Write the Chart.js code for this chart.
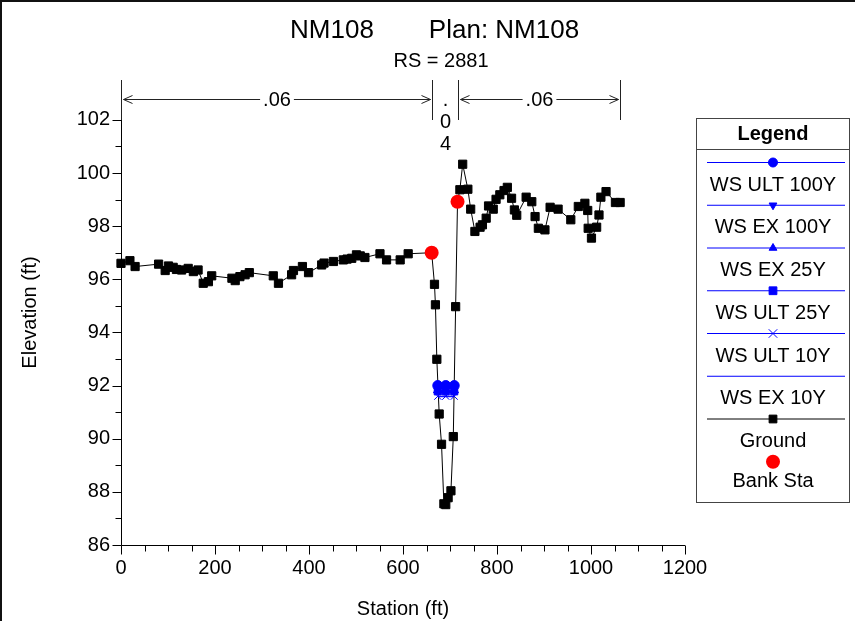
<!DOCTYPE html>
<html>
<head>
<meta charset="utf-8">
<title>NM108 RS 2881</title>
<script src="https://cdn.jsdelivr.net/npm/chart.js@4/dist/chart.umd.min.js"></script>
<style>
  html, body { margin: 0; padding: 0; background: #fff; }
  canvas { display: block; }
</style>
</head>
<body>
<canvas id="xs" width="855" height="621"></canvas>
<script>
// ground survey points (station ft, elevation ft)
const groundStations = [
  0, 19, 30, 80, 94, 101, 111, 118, 129, 143, 154, 164, 175, 186, 193, 236, 243, 253, 264, 273,
  324, 335, 363, 367, 386, 399, 427, 432, 452, 473, 481, 491, 501, 509, 519, 551, 565, 594, 611,
  661, 667, 669, 672, 677, 682, 687, 691, 696, 702, 707, 712, 716,
  721, 727, 738, 744, 753, 764, 769, 777, 782, 792, 798, 806, 815, 822, 831, 837, 842, 862, 874,
  881, 888, 902, 913, 930, 957, 973, 987, 993, 994, 1001, 1012, 1017, 1021, 1032, 1052, 1062
];
const groundElevations = [
  96.60, 96.70, 96.48, 96.57, 96.33, 96.50, 96.45, 96.37, 96.35, 96.41, 96.29, 96.35, 95.85, 95.91, 96.13, 96.04, 95.95, 96.10, 96.17, 96.25,
  96.13, 95.85, 96.17, 96.33, 96.48, 96.25, 96.54, 96.61, 96.67, 96.73, 96.76, 96.79, 96.92, 96.88, 96.82, 96.96, 96.73, 96.73, 96.96,
  97.00, 95.81, 95.04, 92.99, 90.93, 89.79, 87.55, 87.52, 87.78, 88.04, 90.08, 94.97, 98.92,
  99.37, 100.33, 99.39, 98.64, 97.80, 97.96, 98.05, 98.30, 98.76, 98.64, 99.01, 99.18, 99.34, 99.46, 99.05, 98.61, 98.41, 99.09, 98.92,
  98.36, 97.92, 97.86, 98.71, 98.64, 98.24, 98.74, 98.86, 98.59, 97.92, 97.55, 97.96, 98.42, 99.09, 99.30, 98.89, 98.89
];

// left / right bank stations
const bankStations = [661, 716];
const bankElevations = [97.00, 98.92];

// water surface profiles
const wsStations = [674, 691, 709];
const wsNames = ['WS ULT 100Y', 'WS EX 100Y', 'WS EX 25Y', 'WS ULT 25Y', 'WS ULT 10Y', 'WS EX 10Y'];
const wsLevels = [92.00, 91.95, 91.82, 91.78, 91.60, 91.58];
const wsMarkers = ['circle', 'triangle', 'triangle', 'rect', 'crossRot', false];
const wsRotation = [0, 180, 0, 0, 0, 0];

// manning's n values across the section
const nStations = [0, 661, 716, 1062];
const nValues = ['.06', '.04', '.06'];

const titleText = 'NM108';
const planText = 'Plan: NM108';
const rsText = 'RS = 2881';

const FONT = '"Liberation Sans", Arial, sans-serif';
const BLUE = '#0000ff';

const pts = (xs, ys) => xs.map((x, i) => ({ x, y: ys[i] }));

const datasets = wsNames.map((name, i) => ({
  label: name,
  data: wsStations.map(s => ({ x: s, y: wsLevels[i] })),
  borderColor: BLUE,
  backgroundColor: BLUE,
  borderWidth: 1,
  pointStyle: wsMarkers[i],
  rotation: wsRotation[i],
  pointRadius: wsMarkers[i] ? 5 : 0,
  pointBorderWidth: 1,
  order: 1
}));
datasets.push({
  label: 'Ground',
  data: pts(groundStations, groundElevations),
  borderColor: '#000',
  backgroundColor: '#000',
  borderWidth: 1,
  pointStyle: 'rect',
  pointRadius: 5.8,
  pointBorderWidth: 1,
  order: 2
});
datasets.push({
  label: 'Bank Sta',
  data: pts(bankStations, bankElevations),
  showLine: false,
  borderColor: '#ff0000',
  backgroundColor: '#ff0000',
  pointStyle: 'circle',
  pointRadius: 7,
  pointBorderWidth: 0,
  order: 0
});

function hline(ctx, x1, x2, y) { ctx.beginPath(); ctx.moveTo(x1, y); ctx.lineTo(x2, y); ctx.stroke(); }
function vline(ctx, x, y1, y2) { ctx.beginPath(); ctx.moveTo(x, y1); ctx.lineTo(x, y2); ctx.stroke(); }

function arrowHead(ctx, x, y, dir) {
  ctx.beginPath();
  ctx.moveTo(x + dir * 9, y - 4);
  ctx.lineTo(x, y);
  ctx.lineTo(x + dir * 9, y + 4);
  ctx.stroke();
}

const decorations = {
  id: 'decorations',
  beforeDraw(chart) {
    const { ctx, width, height } = chart;
    ctx.save();
    ctx.fillStyle = '#fff';
    ctx.fillRect(0, 0, width, height);
    ctx.strokeStyle = '#111';
    ctx.lineWidth = 2;
    hline(ctx, 0, width, 1);
    vline(ctx, 1, 0, height);
    ctx.restore();
  },
  afterDraw(chart) {
    const { ctx, chartArea: a, scales: { x, y } } = chart;
    ctx.save();

    // titles
    ctx.fillStyle = '#000';
    ctx.textAlign = 'center';
    ctx.textBaseline = 'middle';
    ctx.font = '26px ' + FONT;
    ctx.fillText(titleText, 332, 31);
    ctx.fillText(planText, 504, 31);
    ctx.font = '20px ' + FONT;
    ctx.fillText(rsText, 441, 61);

    // axes with major and minor ticks
    ctx.strokeStyle = '#000';
    ctx.lineWidth = 1;
    const left = Math.round(a.left) + 0.5;
    const bottom = Math.round(a.bottom) + 0.5;
    vline(ctx, left, a.top, bottom);
    hline(ctx, left, a.right, bottom);
    for (let s = 0; s <= 1200; s += 50) {
      const px = Math.round(x.getPixelForValue(s)) + 0.5;
      vline(ctx, px, bottom, bottom + (s % 200 === 0 ? 9 : 6));
    }
    for (let e = 86; e <= 102; e += 1) {
      const py = Math.round(y.getPixelForValue(e)) + 0.5;
      hline(ctx, left - (e % 2 === 0 ? 9 : 6), left, py);
    }

    // n-value dimension lines above the section
    const barTop = a.top, barBot = a.top + 40, ay = a.top + 19.5;
    const nx = nStations.map(s => Math.round(x.getPixelForValue(s)) + 0.5);
    ctx.strokeStyle = '#222';
    nx.forEach(px => vline(ctx, px, barTop, barBot));
    ctx.font = '20px ' + FONT;
    [[0, 1, nValues[0]], [2, 3, nValues[2]]].forEach(([i, j, label]) => {
      const x1 = nx[i] + 2, x2 = nx[j] - 2, mid = (x1 + x2) / 2;
      const w = ctx.measureText(label).width + 6;
      hline(ctx, x1, mid - w / 2, ay);
      hline(ctx, mid + w / 2, x2, ay);
      arrowHead(ctx, x1, ay, 1);
      arrowHead(ctx, x2, ay, -1);
      ctx.fillText(label, mid, ay + 1);
    });
    const midX = (nx[1] + nx[2]) / 2;
    nValues[1].split('').forEach((ch, k) => ctx.fillText(ch, midX, ay + 1 + k * 22));

    // legend box
    const lx1 = 696.5, lx2 = 849.5, ly1 = 118.5, ly2 = 502.5, cx = (lx1 + lx2) / 2;
    ctx.strokeStyle = '#444';
    ctx.strokeRect(lx1, ly1, lx2 - lx1, ly2 - ly1);
    hline(ctx, lx1, lx2, 149.5);
    ctx.font = 'bold 20px ' + FONT;
    ctx.fillText('Legend', cx, 134);
    ctx.font = '20px ' + FONT;
    chart.data.datasets.forEach((ds, i) => {
      const ly = 162.5 + i * 42.75;
      ctx.strokeStyle = ds.borderColor;
      ctx.fillStyle = ds.backgroundColor;
      ctx.lineWidth = 1;
      if (ds.showLine !== false) hline(ctx, 707, 845, ly);
      if (ds.pointRadius > 0) {
        let r = 4.5;
        if (ds.label === 'Bank Sta') r = 7;
        else if (ds.pointStyle === 'rect') r = 5.5;
        else if (ds.pointStyle === 'crossRot') r = 6;
        Chart.helpers.drawPoint(ctx, {
          pointStyle: ds.pointStyle, rotation: ds.rotation || 0, radius: r, borderWidth: ds.pointBorderWidth
        }, cx, ly);
      }
      ctx.fillStyle = '#000';
      ctx.fillText(ds.label, cx, ly + (ds.label === 'Bank Sta' ? 20 : 22.5));
    });
    ctx.restore();
  }
};

new Chart(document.getElementById('xs'), {
  type: 'scatter',
  data: { datasets: datasets.map(d => Object.assign({ showLine: true, clip: false }, d)) },
  options: {
    responsive: false,
    animation: false,
    events: [],
    layout: { padding: { top: 80, right: 170, left: 0, bottom: 0 } },
    plugins: { legend: { display: false }, tooltip: { enabled: false } },
    elements: { line: { tension: 0 } },
    scales: {
      x: {
        type: 'linear', min: 0, max: 1200,
        grid: { display: false }, border: { display: false },
        ticks: { stepSize: 200, padding: 3, maxRotation: 0, color: '#000', font: { family: FONT, size: 20 },
          callback: v => String(v) },
        title: { display: true, text: 'Station (ft)', color: '#000', font: { family: FONT, size: 20 }, padding: { top: 0, bottom: 0 } },
        afterFit(s) { s.height = 76; }
      },
      y: {
        type: 'linear', min: 86, max: 103.5,
        grid: { display: false }, border: { display: false },
        ticks: { stepSize: 2, padding: 3, color: '#000', font: { family: FONT, size: 20 },
          callback: v => String(v) },
        afterBuildTicks(s) { s.ticks = s.ticks.filter(t => t.value % 2 === 0); },
        title: { display: true, text: 'Elevation (ft)', color: '#000', font: { family: FONT, size: 20 }, padding: { top: 18, bottom: 0 } },
        afterFit(s) { s.width = 121; }
      }
    }
  },
  plugins: [decorations]
});
</script>
</body>
</html>
